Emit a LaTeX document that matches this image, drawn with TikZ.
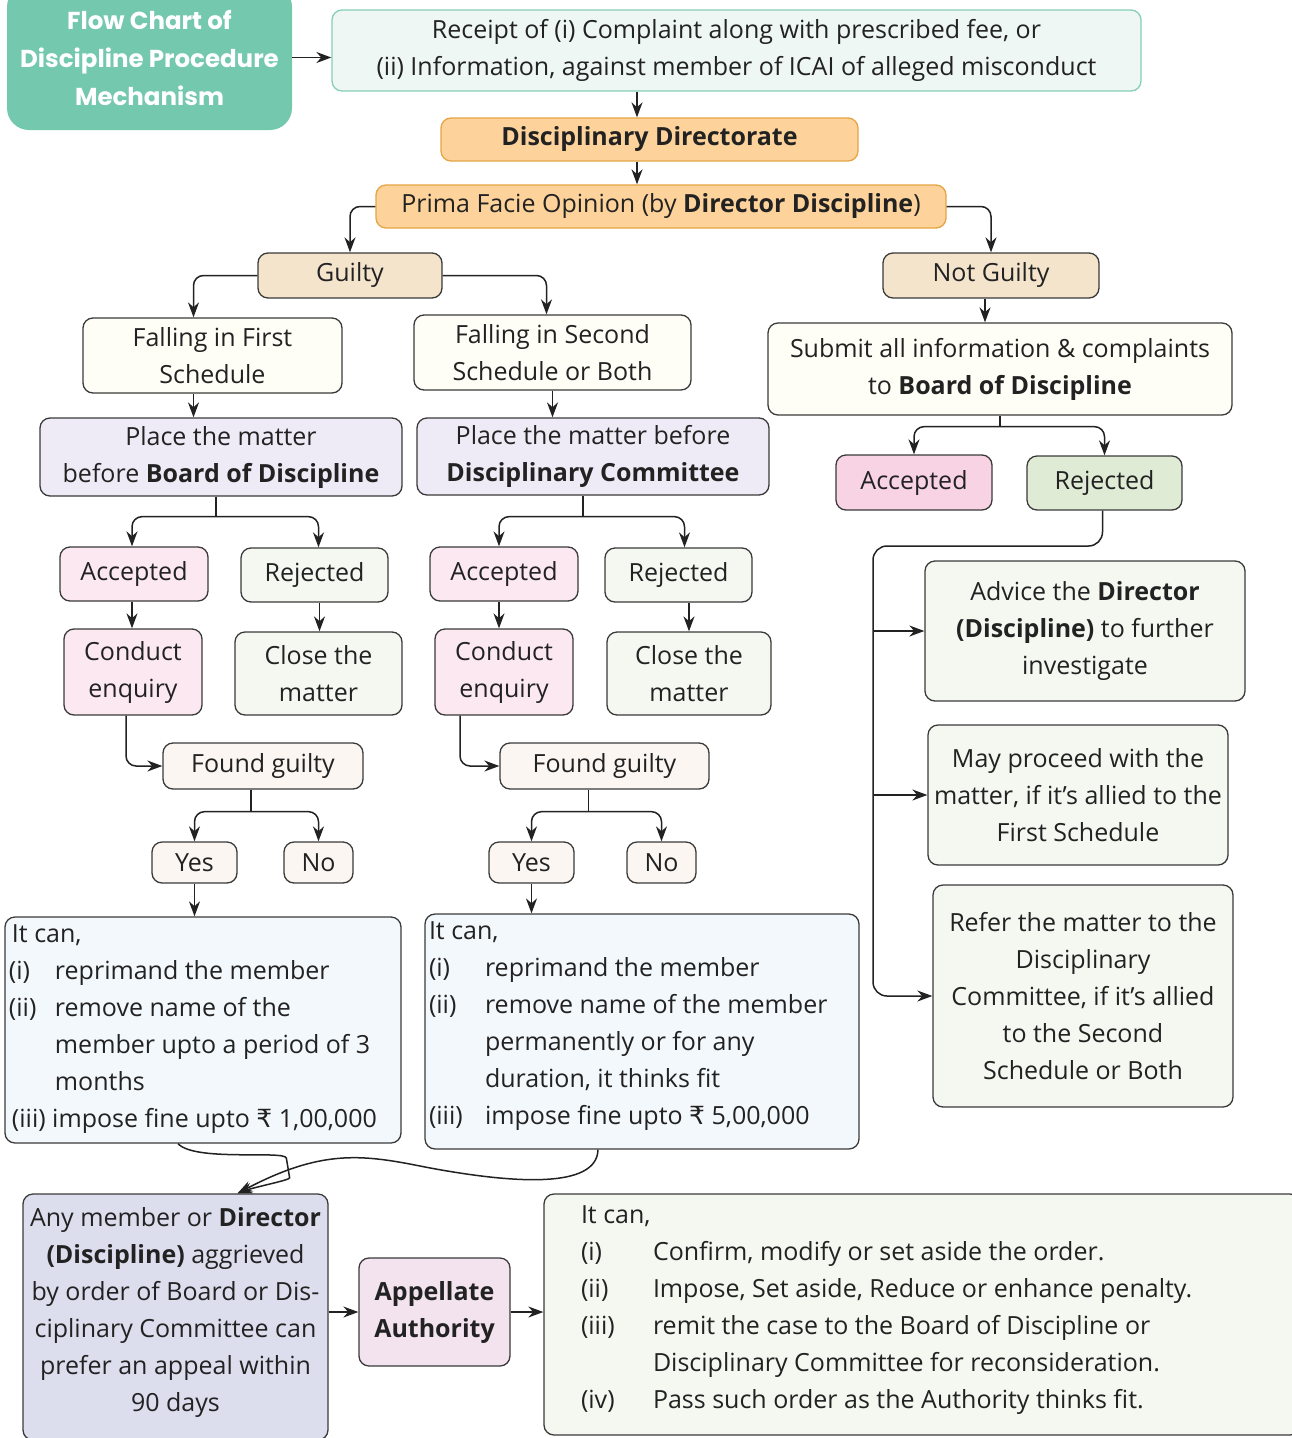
\documentclass[tikz,border=0pt]{standalone}
\usepackage{fontspec}
\usepackage{array}
\setmainfont{Open Sans}
\newfontfamily\titlefont{Poppins}
\newfontfamily\rupfont{DejaVu Sans}
\usetikzlibrary{arrows.meta,positioning}

\definecolor{ink}{HTML}{222222}
\definecolor{edge}{HTML}{3A3A3A}
\definecolor{titlegreen}{HTML}{74C8AE}
\definecolor{mintfill}{HTML}{EEF7F4}
\definecolor{mintedge}{HTML}{86CFB5}
\definecolor{orangefill}{HTML}{FDD29B}
\definecolor{orangeedge}{HTML}{E5A545}
\definecolor{beige}{HTML}{F4E4CC}
\definecolor{cream}{HTML}{FEFEF6}
\definecolor{lavender}{HTML}{EEEBF6}
\definecolor{pinklight}{HTML}{FCE8F1}
\definecolor{greenlight}{HTML}{F5F8F1}
\definecolor{offwhite}{HTML}{FBF6F1}
\definecolor{bluelight}{HTML}{F3F8FC}
\definecolor{pinkstrong}{HTML}{F8D3E4}
\definecolor{greenstrong}{HTML}{DFEBD4}
\definecolor{lilac}{HTML}{DCDEEE}
\definecolor{mauve}{HTML}{F3E3EE}

\tikzstyle{b} = [rectangle, rounded corners=10pt, draw=edge, line width=1.3pt, align=center, inner sep=2pt, text=ink]
\tikzstyle{list} = [b, inner sep=0pt, align=left]
\tikzstyle{conn} = [draw=ink, line width=1.5pt, rounded corners=10pt]

\begin{document}
\begin{tikzpicture}[x=1pt, y=-1pt, >={Stealth[length=15pt,width=11pt]}, font=\fontsize{25}{37}\selectfont]
\useasboundingbox (0,0) rectangle (1291,1438);

% top of the chart
\node[fill=titlegreen, rounded corners=22pt, minimum width=285pt, minimum height=145pt, text=white, align=center, font=\titlefont\bfseries\fontsize{24.5}{38}\selectfont] (title) at (149.5,57.5) {Flow Chart of\\Discipline Procedure\\Mechanism};
\node[b, fill=mintfill, draw=mintedge, minimum width=809pt, minimum height=81pt] (receipt) at (736.5,50.5) {Receipt of (i) Complaint along with prescribed fee, or\\(ii) Information, against member of ICAI of alleged misconduct};
\node[b, fill=orangefill, draw=orangeedge, minimum width=417pt, minimum height=43pt] (dd) at (649.5,139.5) {\textbf{Disciplinary Directorate}};
\node[b, fill=orangefill, draw=orangeedge, minimum width=570pt, minimum height=43pt] (prima) at (661,206.5) {Prima Facie Opinion (by \textbf{Director Discipline})};
\coordinate (spine) at (637,0);

\node[b, fill=beige, minimum width=184pt, minimum height=45pt] (guilty) at (350,275.5) {Guilty};
\node[b, fill=beige, minimum width=216pt, minimum height=45pt] (notg) at (991,275.5) {Not Guilty};

% guilty side
\node[b, fill=cream, minimum width=259pt, minimum height=75pt] (first) at (212.5,355.5) {Falling in First\\Schedule};
\node[b, fill=cream, minimum width=277pt, minimum height=75pt] (second) at (552.5,352.5) {Falling in Second\\Schedule or Both};
\node[b, fill=lavender, minimum width=362pt, minimum height=78pt] (bod) at (221,457) {Place the matter\\before \textbf{Board of Discipline}};
\node[b, fill=lavender, minimum width=352pt, minimum height=77pt] (dc) at (593,456.5) {Place the matter before\\\textbf{Disciplinary Committee}};

\node[b, fill=pinklight, minimum width=148pt, minimum height=54pt] (acc1) at (134,574) {Accepted};
\node[b, fill=greenlight, minimum width=147pt, minimum height=54pt] (rej1) at (314.5,575) {Rejected};
\node[b, fill=pinklight, minimum width=138pt, minimum height=86pt] (cond1) at (133,672) {Conduct\\enquiry};
\node[b, fill=greenlight, minimum width=167pt, minimum height=83pt] (close1) at (318.5,673.5) {Close the\\matter};
\node[b, fill=offwhite, minimum width=200pt, minimum height=46pt] (found1) at (263,766) {Found guilty};
\node[b, fill=offwhite, minimum width=85pt, minimum height=41pt] (yes1) at (194.5,862.5) {Yes};
\node[b, fill=offwhite, minimum width=69pt, minimum height=41pt] (no1) at (318.5,862.5) {No};
\node[list, fill=bluelight, minimum width=396pt, minimum height=226pt] (itcan1) at (203,1030) {%
\begin{tabular}{@{\hspace{4pt}}p{46pt}@{}p{346pt}@{}}
\multicolumn{2}{@{\hspace{7pt}}l@{}}{It can,}\\
(i) & reprimand the member\\
(ii) & remove name of the\\
 & member upto a period of 3\\
 & months\\
\multicolumn{2}{@{\hspace{7pt}}l@{}}{(iii) impose fine upto {\rupfont ₹} 1,00,000\rule[-15pt]{0pt}{1pt}}
\end{tabular}};

\node[b, fill=pinklight, minimum width=148pt, minimum height=54pt] (acc2) at (504,574) {Accepted};
\node[b, fill=greenlight, minimum width=147pt, minimum height=54pt] (rej2) at (678.5,575) {Rejected};
\node[b, fill=pinklight, minimum width=138pt, minimum height=86pt] (cond2) at (504,672) {Conduct\\enquiry};
\node[b, fill=greenlight, minimum width=164pt, minimum height=83pt] (close2) at (689,673.5) {Close the\\matter};
\node[b, fill=offwhite, minimum width=209pt, minimum height=46pt] (found2) at (604.5,766) {Found guilty};
\node[b, fill=offwhite, minimum width=85pt, minimum height=41pt] (yes2) at (531.5,862.5) {Yes};
\node[b, fill=offwhite, minimum width=69pt, minimum height=41pt] (no2) at (661.5,862.5) {No};
\node[list, fill=bluelight, minimum width=434pt, minimum height=233pt] (itcan2) at (642,1031.5) {%
\begin{tabular}{@{\hspace{4pt}}p{56pt}@{}p{374pt}@{}}
\multicolumn{2}{@{\hspace{4pt}}l@{}}{It can,}\\
(i) & reprimand the member\\
(ii) & remove name of the member\\
 & permanently or for any\\
 & duration, it thinks fit\\
(iii) & impose fine upto {\rupfont ₹} 5,00,000\rule[-24pt]{0pt}{1pt}
\end{tabular}};

% not guilty side
\node[b, fill=cream, minimum width=464pt, minimum height=92pt] (submit) at (1000,369) {Submit all information \& complaints\\to \textbf{Board of Discipline}};
\node[b, fill=pinkstrong, minimum width=156pt, minimum height=55pt] (acc3) at (914,482.5) {Accepted};
\node[b, fill=greenstrong, minimum width=155pt, minimum height=54pt] (rej3) at (1104.5,483) {Rejected};
\node[b, fill=greenlight, minimum width=320pt, minimum height=140pt] (advice) at (1085,631) {Advice the \textbf{Director}\\\textbf{(Discipline)} to further\\investigate};
\node[b, fill=greenlight, minimum width=300pt, minimum height=140pt] (may) at (1078,795) {May proceed with the\\matter, if it's allied to the\\First Schedule};
\node[b, fill=greenlight, minimum width=300pt, minimum height=222pt] (refer) at (1083,996) {Refer the matter to the\\Disciplinary\\Committee, if it's allied\\to the Second\\Schedule or Both};
\coordinate (rail) at (873,546);

% appeal
\node[b, fill=lilac, minimum width=305pt, minimum height=246pt] (anymem) at (175.5,1317) {Any member or \textbf{Director}\\\textbf{(Discipline)} aggrieved\\by order of Board or Dis-\\ciplinary Committee can\\prefer an appeal within\\90 days\rule[-15pt]{0pt}{1pt}};
\node[b, fill=mauve, minimum width=151pt, minimum height=108pt] (appellate) at (434.5,1312) {\textbf{Appellate}\\\textbf{Authority}};
\node[list, fill=greenlight, minimum width=756pt, minimum height=241pt] (itcan3) at (922,1314.5) {%
\begin{tabular}{@{\hspace{37pt}}p{72pt}@{}p{647pt}@{}}
\multicolumn{2}{@{\hspace{37pt}}l@{}}{It can,}\\
(i) & Confirm, modify or set aside the order.\\
(ii) & Impose, Set aside, Reduce or enhance penalty.\\
(iii) & remit the case to the Board of Discipline or\\
 & Disciplinary Committee for reconsideration.\\
(iv) & Pass such order as the Authority thinks fit.\rule[-22pt]{0pt}{1pt}
\end{tabular}};

% connectors
\draw[conn, ->] (title.east) -- (title.east -| receipt.west);
\draw[conn, ->] (receipt.south -| spine) -- (dd.north -| spine);
\draw[conn, ->] (dd.south -| spine) -- (prima.north -| spine);
\draw[conn, ->] (prima.west) -| (guilty.north);
\draw[conn, ->] (prima.east) -| (notg.north);
\draw[conn, ->] (guilty.west) -| ([xshift=-19pt]first.north);
\draw[conn, ->] (guilty.east) -| ([xshift=-6pt]second.north);
\draw[conn, ->] ([xshift=-19pt]first.south) -- ([xshift=-19pt]first.south |- bod.north);
\draw[conn, ->] (second.south) -- (second.south |- dc.north);

\draw[conn] ([xshift=-5pt]bod.south) -- ++(0,20) coordinate (j1);
\draw[conn, ->] (j1) -| ([xshift=-2pt]acc1.north);
\draw[conn, ->] (j1) -| ([xshift=4pt]rej1.north);
\draw[conn, ->] ([xshift=-2pt]acc1.south) -- ([xshift=-2pt]acc1.south |- cond1.north);
\draw[conn, ->] ([xshift=1pt]close1.north |- rej1.south) -- ([xshift=1pt]close1.north);
\draw[conn, ->] ([xshift=-7pt]cond1.south) |- (found1.west);
\draw[conn] ([xshift=-12pt]found1.south) -- ++(0,22) coordinate (j2);
\draw[conn, ->] (j2) -| (yes1.north);
\draw[conn, ->] (j2) -| (no1.north);
\draw[conn, ->] (yes1.south) -- (yes1.south |- itcan1.north);

\draw[conn] ([xshift=-10pt]dc.south) -- ++(0,21) coordinate (j3);
\draw[conn, ->] (j3) -| ([xshift=-5pt]acc2.north);
\draw[conn, ->] (j3) -| ([xshift=6pt]rej2.north);
\draw[conn, ->] ([xshift=-5pt]acc2.south) -- ([xshift=-5pt]acc2.south |- cond2.north);
\draw[conn, ->] (close2.north |- rej2.south) -- (close2.north);
\draw[conn, ->] ([xshift=-44pt]cond2.south) |- (found2.west);
\draw[conn] ([xshift=-16pt]found2.south) -- ++(0,22) coordinate (j4);
\draw[conn, ->] (j4) -| (yes2.north);
\draw[conn, ->] (j4) -| (no2.north);
\draw[conn, ->] (yes2.south) -- (yes2.south |- itcan2.north);

\draw[conn, ->] ([xshift=-6pt]notg.south) -- ([xshift=-6pt]notg.south |- submit.north);
\draw[conn] (submit.south) -- ++(0,11) coordinate (j5);
\draw[conn, ->] (j5) -| (acc3.north);
\draw[conn, ->] (j5) -| (rej3.north);
\draw[conn, ->, rounded corners=14pt] ([xshift=-2pt]rej3.south) |- (rail) |- (refer.west);
\draw[conn, ->] (rail |- advice.west) -- (advice.west);
\draw[conn, ->] (rail |- may.west) -- (may.west);

\draw[conn, ->] ([xshift=-25pt]itcan1.south) .. controls (195,1162) and (285,1150) .. (288,1168) .. controls (290,1180) and (255,1187) .. ([xshift=62pt]anymem.north);
\draw[conn, ->] ([xshift=-44pt]itcan2.south) .. controls (597,1190) and (510,1182) .. (430,1168) .. controls (360,1154) and (320,1150) .. ([xshift=62pt]anymem.north);
\draw[conn, ->] (appellate.west -| anymem.east) -- (appellate.west);
\draw[conn, ->] (appellate.east) -- (appellate.east -| itcan3.west);

\end{tikzpicture}
\end{document}
